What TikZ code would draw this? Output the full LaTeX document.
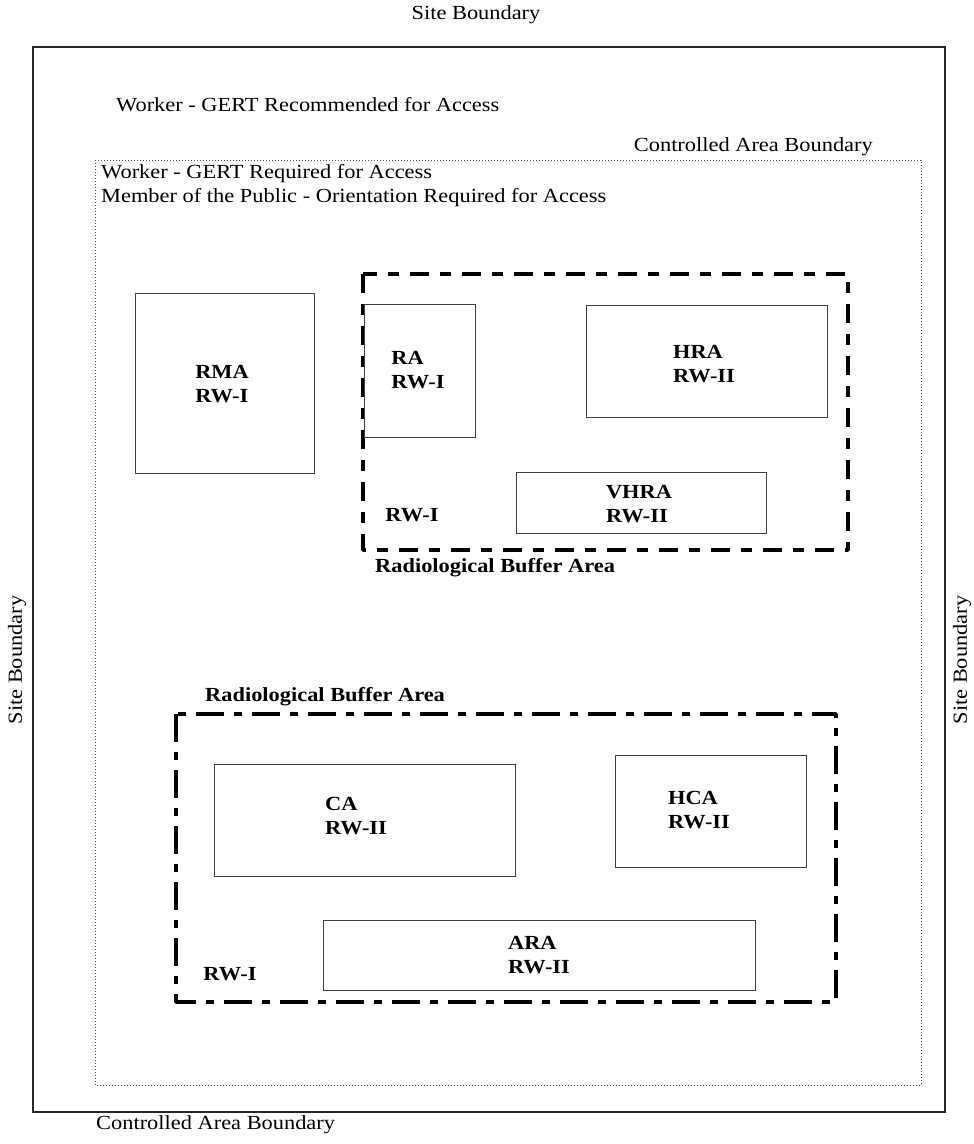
\documentclass[tikz,border=0pt]{standalone}
\usepackage{fontspec}
\setmainfont{Liberation Serif}[FakeStretch=1.12]
\begin{document}
\begin{tikzpicture}[x=1pt,y=-1pt,
  site/.style={draw=black!85,line width=1.2pt},
  ctrl/.style={draw=black!70,line width=0.6pt,dash pattern=on 1pt off 2pt},
  bufA/.style={draw=black,line width=3.6pt,dash pattern=on 19pt off 11pt on 11pt off 11pt,line join=round},
  bufB/.style={draw=black,line width=3.6pt,dash pattern=on 28pt off 10pt on 8pt off 10pt,line join=round},
  zone/.style={draw=black!75,line width=0.7pt,rectangle,inner sep=0pt,anchor=north west},
  txt/.style={font=\fontsize{20}{24}\selectfont,inner sep=0pt},
  lab/.style={font=\fontsize{20}{23.5}\selectfont\bfseries,inner sep=0pt,align=left},
  buflab/.style={font=\fontsize{20}{24}\selectfont\bfseries,inner sep=0pt}
]
\useasboundingbox (0,0) rectangle (974,1144);
% site boundary
\draw[site] (33,47) rectangle (945,1112);
\node[txt] (sbt) at (476,15) {Site Boundary};
\node[txt,rotate=90] (sbl) at (17,660) {Site Boundary};
\node[txt,rotate=90] (sbr) at (962,660) {Site Boundary};
\node[txt,anchor=west] (wrec) at (116,105) {Worker - GERT Recommended for Access};
% controlled area
\draw[ctrl] (95,160) rectangle (921,1085);
\node[txt,anchor=east] (cabt) at (873,147) {Controlled Area Boundary};
\node[txt,anchor=west] (cabb) at (96,1125) {Controlled Area Boundary};
\node[txt,anchor=north west,align=left] (wreq) at (101,164) {Worker - GERT Required for Access\\Member of the Public - Orientation Required for Access};
% RMA
\node[zone,minimum width=179pt,minimum height=180pt] (rma) at (135,293) {};
\node[lab] (rmat) at (222,384) {RMA\\RW-I};
% buffer area 1
\draw[bufA] (363,274) rectangle (848,550);
\node[zone,minimum width=111pt,minimum height=133pt] (ra) at (364,304) {};
\node[lab] (rat) at (418,370) {RA\\RW-I};
\node[zone,minimum width=241pt,minimum height=112pt] (hra) at (586,305) {};
\node[lab] (hrat) at (704,364) {HRA\\RW-II};
\node[zone,minimum width=250pt,minimum height=61pt] (vhra) at (516,472) {};
\node[lab] (vhrat) at (639,504) {VHRA\\RW-II};
\node[lab] (rw1a) at (412,515) {RW-I};
\node[buflab,anchor=west] (rba1) at (375,568) {Radiological Buffer Area};
% buffer area 2
\draw[bufB] (176,714) rectangle (836,1002);
\node[buflab,anchor=west] (rba2) at (205,697) {Radiological Buffer Area};
\node[zone,minimum width=301pt,minimum height=112pt] (ca) at (214,764) {};
\node[lab] (cat) at (356,816) {CA\\RW-II};
\node[zone,minimum width=191pt,minimum height=112pt] (hca) at (615,755) {};
\node[lab] (hcat) at (699,810) {HCA\\RW-II};
\node[zone,minimum width=432pt,minimum height=70pt] (ara) at (323,920) {};
\node[lab] (arat) at (539,955) {ARA\\RW-II};
\node[lab] (rw1b) at (230,974) {RW-I};
\end{tikzpicture}
\end{document}
